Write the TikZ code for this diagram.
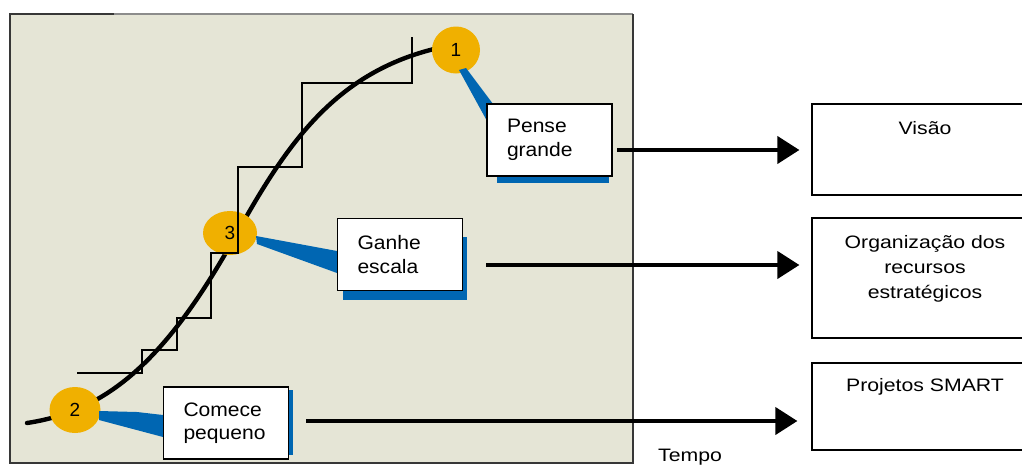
\documentclass[tikz,border=0pt]{standalone}
\usepackage{fontspec}
\setmainfont{Liberation Sans}
\newfontfamily\boxfont{Liberation Sans}[FakeStretch=1.08]
\newfontfamily\sidefont{Liberation Sans}[FakeStretch=1.18]
\usetikzlibrary{arrows.meta,shapes.geometric}
\definecolor{panelbg}{RGB}{229,229,214}
\definecolor{dotfill}{RGB}{240,176,0}
\definecolor{calloutblue}{RGB}{0,102,178}
\definecolor{framegray}{RGB}{55,55,55}
\definecolor{framelight}{RGB}{140,140,140}
\tikzset{
  dot/.style={ellipse, fill=dotfill, inner sep=0pt, font=\fontsize{19}{19}\selectfont},
  lbox/.style={draw=black, line width=1.2pt, fill=white, minimum height=72pt,
    text width=85pt, inner xsep=20pt, inner ysep=0pt, align=left,
    font=\boxfont\fontsize{19.5}{23.5}\selectfont},
  rbox/.style={draw=black, line width=1.2pt, fill=white, minimum width=226pt,
    inner sep=0pt},
  rlabel/.style={anchor=north, inner sep=0pt, align=center,
    font=\sidefont\fontsize{18}{25}\selectfont},
  shade/.style={fill=calloutblue},
  pointer/.style={fill=calloutblue},
  timearrow/.style={line width=4pt, -{Triangle[length=22pt,width=27pt]}},
  stairs/.style={line width=1.4pt, black},
  scurve/.style={line width=4.4pt, black, line cap=round, line join=round}
}
\begin{document}
\begin{tikzpicture}[x=1pt,y=-1pt]
\useasboundingbox (0,0) rectangle (1022,466);
\clip (0,0) rectangle (1022,466);

% panel
\fill[panelbg] (10,14) rectangle (633,463);
\draw[framelight, line width=1.5pt] (114,14) -- (633,14);
\draw[framegray, line width=1.5pt] (114,14) -- (10,14) -- (10,463) -- (633,463) -- (633,14);

% growth curve (two cubic pieces meeting at the inflection point)
\draw[scurve] (27,423) .. controls (107,411) and (166,361) .. (236,235)
  .. controls (286,145) and (334,74) .. (434,49);

% milestone dots
\node[dot, minimum width=48pt, minimum height=47pt] (d1) at (456,50) {1};
\node[dot, minimum width=54pt, minimum height=44pt] (d3) at (230,233) {3};
\node[dot, minimum width=51pt, minimum height=46pt] (d2) at (75,410) {2};

% staircase
\draw[stairs] (77,373) -- (142,373) -- (142,350) -- (177,350) -- (177,318)
  -- (211,318) -- (211,253) -- (238,253) -- (238,167) -- (302,167)
  -- (302,83) -- (412,83) -- (412,37);

% callout pointers
\fill[pointer] (459,70) -- (466,68) -- (493,104) -- (487,121) -- cycle;
\fill[pointer] (256,236) -- (337,251) -- (337,273) -- (257,244) -- cycle;
\fill[pointer] (99,411) -- (137,412) -- (163,415) -- (163,437) -- (99,420) -- cycle;

% shadows
\fill[shade] (497,174) rectangle (609,183);
\fill[shade] (461,237) rectangle (467,300);
\fill[shade] (343,289) rectangle (467,300);
\fill[shade] (287,390) rectangle (293,455);

% stage boxes
\node[lbox] (pense) at (549.5,140) {Pense\\grande};
\node[lbox] (ganhe) at (400,254.5) {Ganhe\\escala};
\node[lbox] (comece) at (226,423) {Comece\\pequeno};

% outcome boxes
\node[rbox, minimum height=91pt] (visao) at (925,149.5) {};
\node[rbox, minimum height=120pt] (org) at (925,278) {};
\node[rbox, minimum height=87pt] (proj) at (925,406.5) {};
\node[rlabel] (visaot) at ([yshift=-17.5pt]visao.north) {Visão};
\node[rlabel] (orgt) at ([yshift=-18pt]org.north) {Organização dos\\recursos\\estratégicos};
\node[rlabel] (projt) at ([yshift=-16pt]proj.north) {Projetos SMART};

% arrows
\coordinate (s1) at (617,150);
\coordinate (s2) at (486,265);
\coordinate (s3) at (306,421);
\draw[timearrow, shorten >=12pt] (s1) -- (s1 -| visao.west);
\draw[timearrow, shorten >=12pt] (s2) -- (s2 -| org.west);
\draw[timearrow, shorten >=14pt] (s3) -- (s3 -| proj.west);

\node[font=\sidefont\fontsize{18}{18}\selectfont] (tempo) at (690,457) {Tempo};
\end{tikzpicture}
\end{document}
